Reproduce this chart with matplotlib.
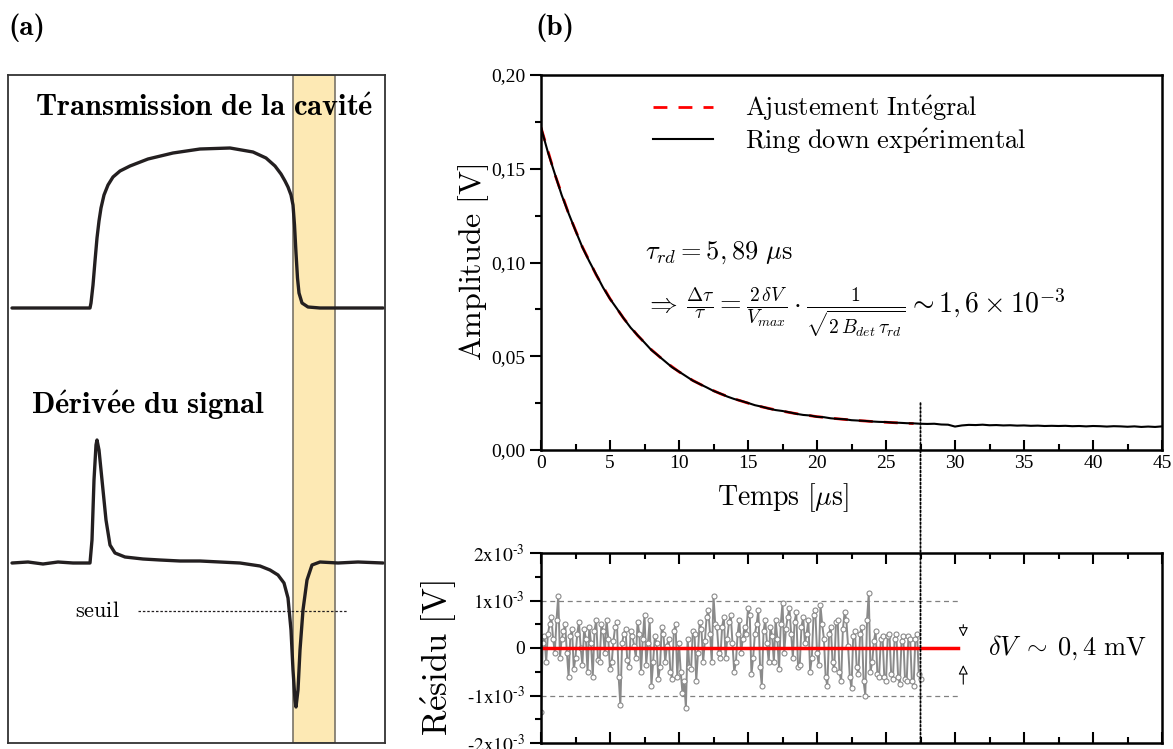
import numpy as np
import matplotlib
matplotlib.use("Agg")
import matplotlib.pyplot as plt
from matplotlib.patches import ConnectionPatch

plt.rcParams['mathtext.fontset'] = 'cm'
plt.rcParams['font.family'] = ['Liberation Serif', 'DejaVu Serif']

# ---- panel (a): schematic signals (arbitrary units) ----
trans_x = [4, 82, 83, 85, 87, 89, 91, 93, 96, 100, 105, 112, 122, 140, 165, 192, 222, 245,
           258, 267, 273, 277, 280, 283, 285, 286.5, 288, 289.5, 291, 294, 300, 312, 375]
trans_y = [435, 435, 440, 458, 482, 505, 522, 535, 548, 558, 566, 572, 577, 584, 590, 594,
           595, 591, 585, 577, 569, 562, 556, 548, 538, 518, 490, 465, 450, 440, 436, 435, 435]
deriv_x = [4, 20, 35, 50, 65, 82, 84, 86, 88, 89, 91, 94, 98, 102, 107, 117, 135, 152, 172,
           192, 212, 232, 252, 262, 270, 276, 280, 283, 285, 287, 288, 290, 292, 295, 299,
           304, 312, 330, 350, 375]
deriv_y = [180, 181, 179, 181, 180, 180, 203, 263, 298, 303, 293, 263, 223, 198, 190, 186, 184,
           183, 182, 182, 181, 180, 177, 173, 168, 160, 145, 113, 73, 43, 36, 53, 93, 133, 163,
           178, 181, 180, 181, 180]
band = (284.7, 327.0)
seuil_y = 132

# ---- panel (b): ring down ----
t_exp = np.arange(0, 45.01, 0.5)
v_exp = [0.1720, 0.1588, 0.1473, 0.1359, 0.1262, 0.1170, 0.1081, 0.1006, 0.0936, 0.0866,
         0.0806, 0.0754, 0.0701, 0.0652, 0.0612, 0.0573, 0.0533, 0.0503, 0.0472, 0.0441,
         0.0418, 0.0394, 0.0370, 0.0352, 0.0334, 0.0315, 0.0301, 0.0285, 0.0272, 0.0262,
         0.0251, 0.0239, 0.0231, 0.0221, 0.0213, 0.0208, 0.0201, 0.0193, 0.0187, 0.0184,
         0.0177, 0.0175, 0.0169, 0.0166, 0.0164, 0.0159, 0.0157, 0.0155, 0.0152, 0.0150,
         0.0149, 0.0146, 0.0145, 0.0143, 0.0142, 0.0140, 0.0139, 0.0140, 0.0136, 0.0135,
         0.0125, 0.0131, 0.0134, 0.0133, 0.0135, 0.0132, 0.0133, 0.0131, 0.0132, 0.0130,
         0.0131, 0.0129, 0.0130, 0.0128, 0.0129, 0.0128, 0.0129, 0.0127, 0.0128, 0.0126,
         0.0128, 0.0127, 0.0125, 0.0127, 0.0126, 0.0124, 0.0126, 0.0123, 0.0125, 0.0123,
         0.0126]
t_fit = np.arange(0, 27.51, 1.0)
v_fit = [0.1720, 0.1471, 0.1261, 0.1083, 0.0934, 0.0807, 0.0701, 0.0611, 0.0535, 0.0471,
         0.0417, 0.0371, 0.0333, 0.0300, 0.0273, 0.0250, 0.0230, 0.0214, 0.0200, 0.0188,
         0.0178, 0.0170, 0.0163, 0.0157, 0.0152, 0.0148, 0.0144, 0.0141]

# residuals in units of 1e-3 V : samples at 0, 0.25, 0.5 ... us
res_a = [-1.35, 0.25, 0.3, 0.65, -0.1, 1.1, 0.2, 0.5, -0.6, 0.4, -0.2, 0.55, -0.35, 0.2,
         0.45, -0.6, 0.6, -0.3, 0.35, 0.6, -0.45, 0.15, 0.55, -1.2, 0.3, -0.25, 0.35, 0.05,
         0.55, -0.5, 0.7, 0.1, -0.8, 0.25, -0.65, 0.45, -0.3, 0.2, -0.65, 0.5, 0.1, -0.95,
         -1.27, -0.4, 0.35, -0.7, 0.55, -0.3, 0.65, 0.3, 1.1, 0.45, -0.2, 0.65, 0.2, 0.7,
         -0.5, 0.3, -0.1, 0.45, 0.85, -0.55, 0.3, 0.8, -0.8, 0.6, -0.3, 0.25, 0.6, -0.45,
         0.95, 0.4, 0.85, -0.2, 0.75, -0.35, 0.65, 0.3, -0.5, 0.7, -0.1, 0.9, 0.2, -0.8,
         0.45, -0.45, 0.6, -0.7, 0.75, 0.05, -0.85, 0.35, -0.55, 0.45, -1.0, 1.15, -0.3,
         0.35, -0.6, 0.25, -0.7, 0.3, -0.65, 0.3, -0.75, 0.25, -0.7, 0.2, -0.8, 0.3, -0.65]
# ... and the samples in between (0.125, 0.375 ... us)
res_b = [0.1, -0.3, 0.5, 0.2, 0.6, -0.2, 0.35, -0.1, 0.25, -0.45, 0.3, 0.0, 0.4, -0.5, 0.1,
         0.35, -0.25, 0.5, -0.1, 0.2, -0.3, 0.45, -0.6, 0.1, 0.4, -0.4, 0.25, -0.2, 0.3, 0.2,
         -0.35, 0.6, -0.3, 0.1, -0.4, 0.3, 0.05, -0.5, 0.35, -0.6, -0.5, -0.7, 0.2, -0.45, 0.3,
         -0.1, 0.4, 0.15, 0.8, -0.3, 0.5, -0.1, 0.45, -0.2, 0.55, 0.1, -0.3, 0.6, 0.2, 0.3,
         0.7, -0.2, 0.5, -0.4, 0.35, 0.1, 0.45, -0.3, 0.2, 0.5, -0.1, 0.65, 0.3, 0.55, -0.4,
         0.45, 0.1, 0.6, -0.2, 0.8, -0.35, 0.5, -0.6, 0.3, -0.3, 0.55, -0.5, 0.4, 0.6, -0.6,
         0.25, -0.4, 0.3, -0.7, 0.6, -0.5, 0.15, -0.55, 0.2, -0.6, 0.25, -0.55, 0.2, -0.6,
         0.15, -0.65, 0.25, -0.7, 0.2, -0.55]
res = np.empty(len(res_a) + len(res_b))
res[0::2] = res_a
res[1::2] = res_b
res = res * 1e-3
t_res = np.arange(len(res)) * 0.125

amp_ticks = [0.0, 0.05, 0.10, 0.15, 0.20]
amp_labels = ['0,00', '0,05', '0,10', '0,15', '0,20']
time_ticks = [0, 5, 10, 15, 20, 25, 30, 35, 40, 45]
res_ticks = [-2e-3, -1e-3, 0, 1e-3, 2e-3]
res_labels = [r'$\text{-}2\mathrm{x}10^{\text{-}3}$', r'$\text{-}1\mathrm{x}10^{\text{-}3}$', '0',
              r'$1\mathrm{x}10^{\text{-}3}$', r'$2\mathrm{x}10^{\text{-}3}$']
t_cut = 27.5
t_end = 30.2

fig = plt.figure(figsize=(11.73, 7.49), dpi=100)

# ---------------- panel (a) ----------------
axa = fig.add_axes([8 / 1173, 6 / 749, 377 / 1173, 668 / 749])
axa.set_xlim(0, 377)
axa.set_ylim(0, 668)
axa.set_xticks([])
axa.set_yticks([])
for s in axa.spines.values():
    s.set_linewidth(1.3)
    s.set_color('#333333')
axa.axvspan(band[0], band[1], facecolor='#fde9b4', edgecolor='#7a7468', lw=1.2, zorder=0)
axa.plot(trans_x, trans_y, color='#231f20', lw=2.4, solid_capstyle='round', solid_joinstyle='round')
axa.plot(deriv_x, deriv_y, color='#231f20', lw=2.4, solid_capstyle='round', solid_joinstyle='round')
axa.plot([130, 340], [seuil_y, seuil_y], color='#231f20', lw=0.9, ls=(0, (2, 1.5)))
axa.text(27, 635, r'$\mathbf{Transmission\ de\ la\ cavit\acute{e}}$', fontsize=22,
         ha='left', va='center')
axa.text(23, 338, r'$\mathbf{D\acute{e}riv\acute{e}e\ du\ signal}$', fontsize=22,
         ha='left', va='center')
axa.text(67, 131, r'$\mathrm{seuil}$', fontsize=16, ha='left', va='center')

fig.text(8 / 1173, 1 - 28 / 749, '(a)', family='cmb10', fontsize=21, ha='left', va='center')
fig.text(535 / 1173, 1 - 28 / 749, '(b)', family='cmb10', fontsize=21, ha='left', va='center')

# ---------------- panel (b) top ----------------
ax = fig.add_axes([541 / 1173, 299 / 749, 621 / 1173, 375 / 749])
ax.plot(t_fit, v_fit, color='red', lw=2, ls=(0, (5, 4)), label=r'$\mathrm{Ajustement\ Int\acute{e}gral}$')
ax.plot(t_exp, v_exp, color='black', lw=1.5, label=r'$\mathrm{Ring\ down\ exp\acute{e}rimental}$')
ax.set_xlim(0, 45)
ax.set_ylim(0, 0.20)
ax.set_xticks(time_ticks)
ax.set_xticks(np.arange(2.5, 45, 5), minor=True)
ax.set_yticks(amp_ticks, amp_labels)
ax.set_yticks(np.arange(0.025, 0.2, 0.05), minor=True)
ax.tick_params(axis='x', which='both', direction='in', labelsize=14, width=1.5)
ax.tick_params(axis='x', which='major', length=7)
ax.tick_params(axis='x', which='minor', length=4)
ax.tick_params(axis='y', which='both', direction='out', labelsize=14, width=1.5)
ax.tick_params(axis='y', which='major', length=8)
ax.tick_params(axis='y', which='minor', length=4)
for s in ax.spines.values():
    s.set_linewidth(1.8)
ax.set_xlabel(r'$\mathrm{Temps}\ [\mu\mathrm{s}]$', fontsize=20, va='center')
ax.xaxis.set_label_coords(0.39, -0.128)
ax.set_ylabel(r'$\mathrm{Amplitude\ [V]}$', fontsize=23, va='center')
ax.yaxis.set_label_coords(-0.108, 0.5)
ax.legend(loc='upper left', bbox_to_anchor=(0.18, 0.95), frameon=False, fontsize=19,
          handlelength=2.3, handletextpad=1.2, labelspacing=0.12, borderpad=0,
          borderaxespad=0)
ax.text(7.54, 0.1051, r'$\tau_{rd} = 5,89\ \mu\mathrm{s}$', fontsize=19, ha='left', va='center')
ax.text(7.54, 0.0730,
        r'$\Rightarrow\,\frac{\Delta\tau}{\tau}=\frac{2\,\delta V}{V_{max}}\cdot'
        r'\frac{1}{\sqrt{2\,B_{det}\,\tau_{rd}}}\sim 1,6\times10^{-3}$',
        fontsize=20, ha='left', va='center')

# ---------------- panel (b) residuals ----------------
axr = fig.add_axes([541 / 1173, 6 / 749, 621 / 1173, 190 / 749])
axr.plot([0, t_end], [1e-3, 1e-3], color='gray', lw=0.9, ls=(0, (4, 3)))
axr.plot([0, t_end], [-1e-3, -1e-3], color='gray', lw=0.9, ls=(0, (4, 3)))
axr.plot(t_res, res, color='#8a8a8a', lw=1.4, marker='o', ms=3.6, mfc='white',
         mec='#8a8a8a', mew=0.8)
axr.plot([0, t_end], [0, 0], color='red', lw=2.5)
axr.set_xlim(0, 45)
axr.set_ylim(-2e-3, 2e-3)
axr.set_xticks(time_ticks)
axr.set_xticks(np.arange(2.5, 45, 5), minor=True)
axr.set_yticks(res_ticks, res_labels, math_fontfamily='stix')
axr.set_yticks(np.arange(-1.5e-3, 2e-3, 1e-3), minor=True)
axr.tick_params(axis='x', which='both', direction='in', top=True, labelbottom=False, width=1.5)
axr.tick_params(axis='x', which='major', length=8)
axr.tick_params(axis='x', which='minor', length=4)
axr.tick_params(axis='y', which='both', direction='out', labelsize=14, width=1.5)
axr.tick_params(axis='y', which='major', length=8)
axr.tick_params(axis='y', which='minor', length=4)
for s in axr.spines.values():
    s.set_linewidth(1.8)
axr.set_ylabel(r'$\mathrm{R\acute{e}sidu\ [V]}$', fontsize=25, va='center')
axr.yaxis.set_label_coords(-0.164, 0.447)
axr.annotate('', xy=(30.6, 0.18e-3), xytext=(30.6, 0.55e-3),
             arrowprops=dict(arrowstyle='-|>', fc='white', ec='black', lw=0.8,
                             mutation_scale=14))
axr.annotate('', xy=(30.6, -0.3e-3), xytext=(30.6, -0.82e-3),
             arrowprops=dict(arrowstyle='-|>', fc='white', ec='black', lw=0.8,
                             mutation_scale=14))
axr.text(32.4, 0, r'$\delta V\;\sim\;0,4\ \mathrm{mV}$', fontsize=19, ha='left', va='center')

# dotted vertical marker across both plots
con = ConnectionPatch(xyA=(t_cut, 0.025), coordsA=ax.transData,
                      xyB=(t_cut, -2e-3), coordsB=axr.transData,
                      color='black', lw=1.3, ls=(0, (1, 1.2)))
fig.add_artist(con)

fig.savefig('out.png', dpi=100)
